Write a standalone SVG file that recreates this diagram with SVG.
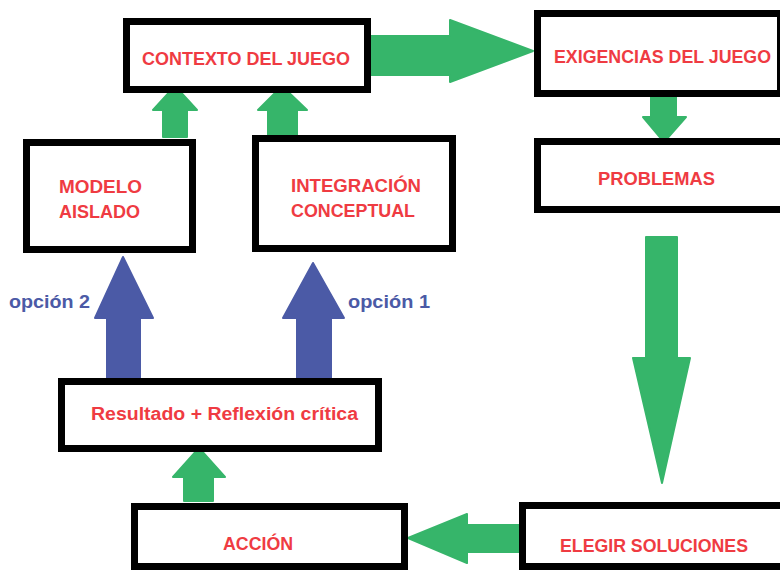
<svg xmlns="http://www.w3.org/2000/svg" width="780" height="570" viewBox="0 0 780 570">
<style>
.box{fill:#fff;stroke:#000;stroke-width:7}
.t{font-family:"Liberation Sans",Arial,sans-serif;font-weight:bold;font-size:18px;fill:#ef3b42}
.o{font-family:"Liberation Sans",Arial,sans-serif;font-weight:bold;font-size:18px;fill:#4b5aa6}
.g{fill:#36b56a;stroke:#36b56a;stroke-width:2;stroke-linejoin:round}
.b{fill:#4b5aa6;stroke:#4b5aa6;stroke-width:2;stroke-linejoin:round}
</style>
<rect width="780" height="570" fill="#fff"/>
<g id="connectors">
<polygon class="g" points="163,137 163,110 153,110 175,86 197,110 187,110 187,137"/>
<polygon class="g" points="268,137 268,110 258,110 282,86 307,110 297,110 297,137"/>
<polygon class="g" points="371,36 450,36 450,20 533,51 450,82 450,75 371,75"/>
<polygon class="g" points="651,97 676,97 676,117 686,117 664,142 643,117 651,117"/>
<polygon class="g" points="646,237 677,237 677,358 690,358 662,483 633,358 646,358"/>
<polygon class="g" points="521,525 467,525 467,514 408,538 467,563 467,552 521,552"/>
<polygon class="g" points="184,501 184,477 173,477 199,448 225,477 213,477 213,501"/>
<polygon class="b" points="107,378 107,318 95,318 123,257 153,318 140,318 140,378"/>
<polygon class="b" points="297,378 297,318 283,318 313,263 344,318 331,318 331,378"/>
<text class="o" x="9" y="308" textLength="81" lengthAdjust="spacingAndGlyphs">opción 2</text>
<text class="o" x="348" y="308" textLength="82" lengthAdjust="spacingAndGlyphs">opción 1</text>
</g>
<g id="contexto">
<rect class="box" x="126.5" y="21.5" width="241" height="68"/>
<text class="t" x="142" y="65" textLength="208" lengthAdjust="spacingAndGlyphs">CONTEXTO DEL JUEGO</text>
</g>
<g id="exigencias">
<rect class="box" x="537.5" y="13.5" width="243" height="80"/>
<text class="t" x="554" y="63" textLength="217" lengthAdjust="spacingAndGlyphs">EXIGENCIAS DEL JUEGO</text>
</g>
<g id="problemas">
<rect class="box" x="537.5" y="141.5" width="260" height="68"/>
<text class="t" x="598" y="185" textLength="117" lengthAdjust="spacingAndGlyphs">PROBLEMAS</text>
</g>
<g id="modelo">
<rect class="box" x="26.5" y="142.5" width="166" height="107"/>
<text class="t" x="59" y="193" textLength="83" lengthAdjust="spacingAndGlyphs">MODELO</text>
<text class="t" x="59" y="218" textLength="81" lengthAdjust="spacingAndGlyphs">AISLADO</text>
</g>
<g id="integracion">
<rect class="box" x="255.5" y="138.5" width="197" height="110"/>
<text class="t" x="291" y="192" textLength="130" lengthAdjust="spacingAndGlyphs">INTEGRACIÓN</text>
<text class="t" x="291" y="217" textLength="124" lengthAdjust="spacingAndGlyphs">CONCEPTUAL</text>
</g>
<g id="resultado">
<rect class="box" x="61.5" y="381.5" width="317" height="67"/>
<text class="t" x="91" y="420" textLength="267" lengthAdjust="spacingAndGlyphs">Resultado + Reflexión crítica</text>
</g>
<g id="accion">
<rect class="box" x="134.5" y="506.5" width="270" height="60"/>
<text class="t" x="223" y="550" textLength="70" lengthAdjust="spacingAndGlyphs">ACCIÓN</text>
</g>
<g id="elegir">
<rect class="box" x="522.5" y="505.5" width="280" height="61"/>
<text class="t" x="560" y="552" textLength="188" lengthAdjust="spacingAndGlyphs">ELEGIR SOLUCIONES</text>
</g>
</svg>
